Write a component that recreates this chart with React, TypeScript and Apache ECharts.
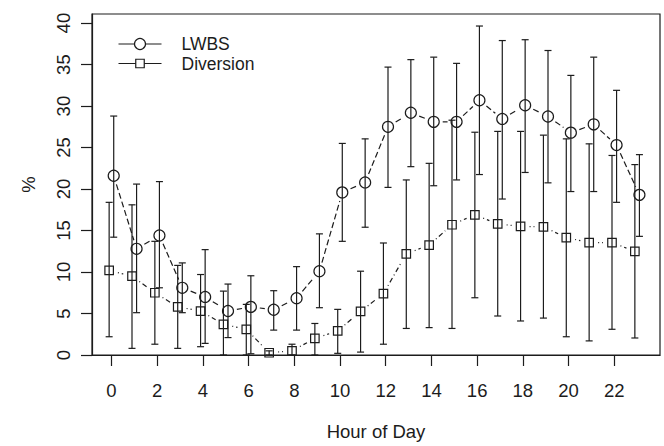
import React, { useEffect, useRef } from "react";
import * as echarts from "echarts";

// Hour of day (0-23)
const hours = [0, 1, 2, 3, 4, 5, 6, 7, 8, 9, 10, 11, 12, 13, 14, 15, 16, 17, 18, 19, 20, 21, 22, 23];

// Left without being seen (%), with lower / upper bounds
const lwbsPct = [21.6, 12.8, 14.4, 8.1, 7.0, 5.3, 5.8, 5.45, 6.85, 10.1, 19.6, 20.8, 27.5, 29.2, 28.1, 28.1, 30.7, 28.45, 30.1, 28.75, 26.8, 27.8, 25.3, 19.3];
const lwbsLower = [14.2, 5.1, 8.1, 5.1, 1.4, 2.1, 0.15, 3.0, 3.0, 5.7, 13.7, 15.4, 20.2, 22.7, 20.4, 21.1, 21.75, 18.8, 22.0, 20.75, 19.7, 19.7, 18.4, 14.3];
const lwbsUpper = [28.8, 20.6, 20.9, 11.1, 12.7, 8.55, 9.55, 7.75, 10.65, 14.6, 25.5, 26.05, 34.7, 35.6, 35.9, 35.15, 39.65, 37.9, 38.0, 36.7, 33.7, 35.9, 31.9, 24.15];

// Ambulance diversion (%), with lower / upper bounds
const diversionPct = [10.2, 9.5, 7.5, 5.8, 5.3, 3.7, 3.1, 0.27, 0.5, 2.0, 2.9, 5.25, 7.4, 12.2, 13.25, 15.7, 16.9, 15.8, 15.5, 15.45, 14.15, 13.55, 13.55, 12.5];
const diversionLower = [2.2, 0.8, 1.3, 0.8, 1.0, 0, 0, 0, 0, 0, 0.2, 0.35, 1.3, 3.2, 3.3, 3.2, 6.9, 4.7, 4.1, 4.45, 2.2, 1.7, 3.1, 2.05];
const diversionUpper = [18.4, 18.1, 13.7, 10.8, 9.7, 7.7, 6.1, 0.5, 1.3, 3.8, 5.5, 10.1, 13.5, 21.1, 23.1, 28.3, 26.85, 26.95, 26.95, 26.5, 26.05, 25.45, 24.05, 22.95];

const xTicks = [0, 2, 4, 6, 8, 10, 12, 14, 16, 18, 20, 22];
const yTicks = [0, 5, 10, 15, 20, 25, 30, 35, 40];
const seriesNames = ["LWBS", "Diversion"];

const INK = "#1c1c1c";
const FONT = "'Liberation Sans', Arial, Helvetica, sans-serif";
const FONT_SIZE = 18.5;
const LEGEND_FONT_SIZE = 17.5;
const LEGEND_ROW = 19.5;
const DODGE = 0.1; // horizontal dodge so the two series' bars don't overlap
const LINE_W = 1.2;

function errorBars(name: string, xs: number[], lo: number[], hi: number[], shift: number) {
  return {
    name,
    type: "custom",
    clip: true,
    silent: true,
    z: 2,
    data: xs.map((h, i) => [h + shift, lo[i], hi[i]]),
    encode: { x: 0, y: [1, 2] },
    renderItem: (_params: any, api: any) => {
      const x = api.value(0);
      const top = api.coord([x, api.value(2)]);
      const bot = api.coord([x, api.value(1)]);
      const cap = 3.5;
      const style = { stroke: INK, lineWidth: LINE_W };
      return {
        type: "group",
        children: [
          { type: "line", shape: { x1: top[0], y1: top[1], x2: bot[0], y2: bot[1] }, style },
          { type: "line", shape: { x1: top[0] - cap, y1: top[1], x2: top[0] + cap, y2: top[1] }, style },
          { type: "line", shape: { x1: bot[0] - cap, y1: bot[1], x2: bot[0] + cap, y2: bot[1] }, style },
        ],
      };
    },
  };
}

// Point-to-point links that stop short of each marker
function links(name: string, xs: number[], ys: number[], shift: number, dash: number[]) {
  return {
    name,
    type: "custom",
    clip: true,
    silent: true,
    z: 2,
    data: xs.slice(0, -1).map((h, i) => [h + shift, ys[i], xs[i + 1] + shift, ys[i + 1]]),
    encode: { x: [0, 2], y: [1, 3] },
    renderItem: (_params: any, api: any) => {
      const a = api.coord([api.value(0), api.value(1)]);
      const b = api.coord([api.value(2), api.value(3)]);
      const dx = b[0] - a[0];
      const dy = b[1] - a[1];
      const len = Math.hypot(dx, dy);
      const gap = 9;
      if (len <= 2 * gap) return { type: "group", children: [] };
      const ux = dx / len;
      const uy = dy / len;
      return {
        type: "line",
        shape: { x1: a[0] + ux * gap, y1: a[1] + uy * gap, x2: b[0] - ux * gap, y2: b[1] - uy * gap },
        style: { stroke: INK, lineWidth: LINE_W, lineDash: dash },
      };
    },
  };
}

function markers(name: string, xs: number[], ys: number[], shift: number, symbol: string, size: number) {
  return {
    name,
    type: "scatter",
    z: 3,
    silent: true,
    symbol,
    symbolSize: size,
    data: xs.map((h, i) => [h + shift, ys[i]]),
    itemStyle: { color: "rgba(0,0,0,0)", borderColor: INK, borderWidth: LINE_W, opacity: 1 },
  };
}

export default function App() {
  const ref = useRef<HTMLDivElement>(null);

  useEffect(() => {
    if (!ref.current) return;
    const chart = echarts.init(ref.current, undefined, { renderer: "svg" });
    const axisLine = { lineStyle: { color: INK, width: LINE_W } };
    const textStyle = { color: INK, fontFamily: FONT, fontSize: FONT_SIZE };
    const legendText = { fill: INK, font: `${LEGEND_FONT_SIZE}px ${FONT}`, verticalAlign: "middle" };
    const row2 = 8.5 + LEGEND_ROW;

    chart.setOption({
      animation: false,
      backgroundColor: "#ffffff",
      grid: {
        left: 92,
        right: 4,
        top: 14,
        bottom: 87,
        show: true,
        borderColor: INK,
        borderWidth: LINE_W,
        backgroundColor: "transparent",
      },
      xAxis: {
        type: "value",
        min: -0.85,
        max: 24.0,
        splitLine: { show: false },
        axisLine: { show: true, onZero: false, ...axisLine },
        axisTick: { show: true, length: 11, customValues: xTicks, lineStyle: { color: INK, width: LINE_W } },
        axisLabel: { customValues: xTicks, margin: 26, ...textStyle },
        name: "Hour of Day",
        nameLocation: "middle",
        nameGap: 67,
        nameTextStyle: { ...textStyle },
      },
      yAxis: {
        type: "value",
        min: 0,
        max: 41.1,
        splitLine: { show: false },
        axisLine: { show: true, onZero: false, ...axisLine },
        axisTick: { show: true, length: 11, customValues: yTicks, lineStyle: { color: INK, width: LINE_W } },
        axisLabel: { customValues: yTicks, rotate: 90, margin: 19, ...textStyle },
        name: "%",
        nameLocation: "middle",
        nameRotate: 90,
        nameGap: 54,
        nameTextStyle: { ...textStyle },
      },
      graphic: [
        {
          type: "group",
          left: 116,
          top: 35,
          children: [
            { type: "line", shape: { x1: 0, y1: 8.5, x2: 43, y2: 8.5 }, style: { stroke: INK, lineWidth: LINE_W } },
            { type: "circle", shape: { cx: 21.5, cy: 8.5, r: 5.5 }, style: { fill: "#fff", stroke: INK, lineWidth: LINE_W } },
            { type: "line", shape: { x1: 0, y1: row2, x2: 43, y2: row2 }, style: { stroke: INK, lineWidth: LINE_W } },
            {
              type: "rect",
              shape: { x: 17.25, y: row2 - 4.25, width: 8.5, height: 8.5 },
              style: { fill: "#fff", stroke: INK, lineWidth: LINE_W },
            },
            { type: "text", x: 63, y: 8.5, style: { text: seriesNames[0], ...legendText } },
            { type: "text", x: 63, y: row2 + 0.5, style: { text: seriesNames[1], ...legendText } },
          ],
        },
      ],
      series: [
        errorBars(seriesNames[0] + " range", hours, lwbsLower, lwbsUpper, DODGE),
        errorBars(seriesNames[1] + " range", hours, diversionLower, diversionUpper, -DODGE),
        links(seriesNames[0] + " trend", hours, lwbsPct, DODGE, [6, 3]),
        links(seriesNames[1] + " trend", hours, diversionPct, -DODGE, [1, 3, 5, 3]),
        markers(seriesNames[0], hours, lwbsPct, DODGE, "circle", 11),
        markers(seriesNames[1], hours, diversionPct, -DODGE, "rect", 8.5),
      ],
    });

    return () => chart.dispose();
  }, []);

  return <div ref={ref} style={{ width: 664, height: 446, position: "absolute", left: 0, top: 0 }} />;
}
